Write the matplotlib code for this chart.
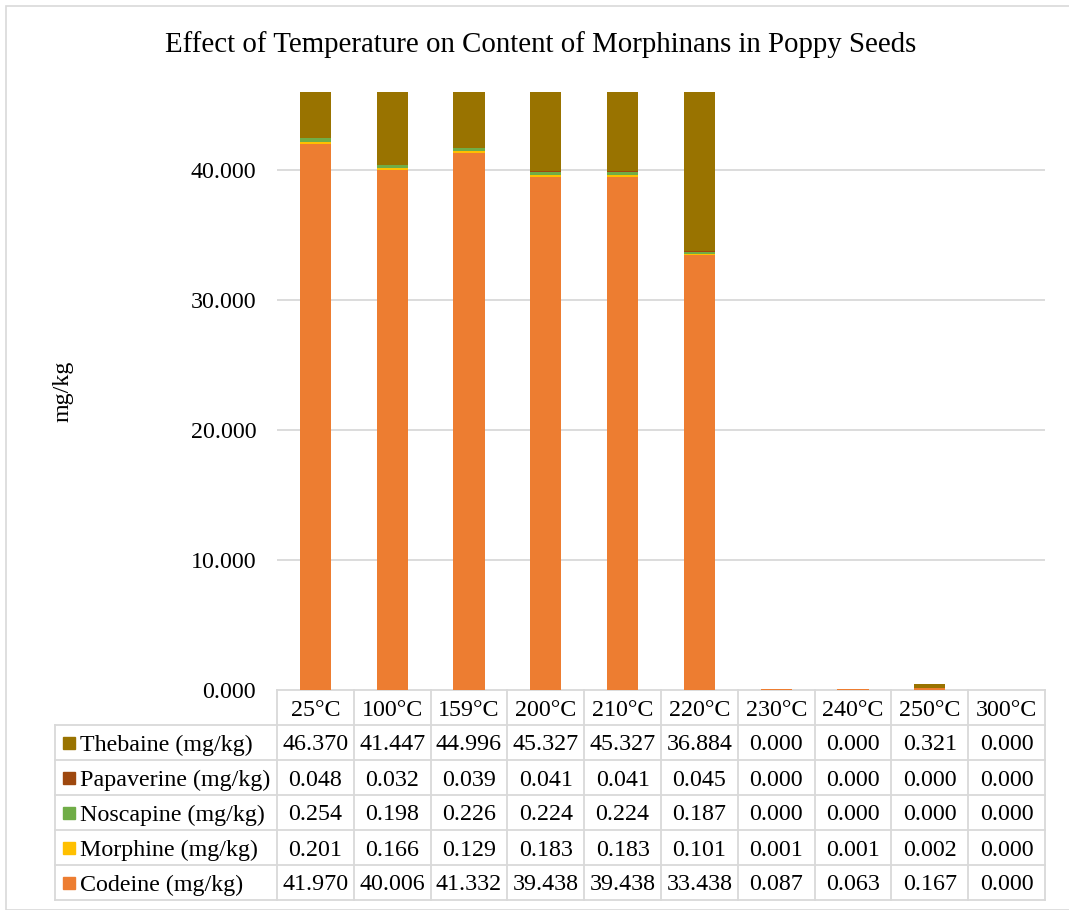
import matplotlib
matplotlib.use("Agg")
import matplotlib.pyplot as plt
import matplotlib.transforms as mtransforms
from matplotlib.patches import Rectangle
import numpy as np

plt.rcParams['font.family'] = ['Liberation Serif', 'DejaVu Serif']

categories = ["25°C", "100°C", "159°C", "200°C", "210°C", "220°C", "230°C", "240°C", "250°C", "300°C"]
codeine = [41.970, 40.006, 41.332, 39.438, 39.438, 33.438, 0.087, 0.063, 0.167, 0.000]
morphine = [0.201, 0.166, 0.129, 0.183, 0.183, 0.101, 0.001, 0.001, 0.002, 0.000]
noscapine = [0.254, 0.198, 0.226, 0.224, 0.224, 0.187, 0.000, 0.000, 0.000, 0.000]
papaverine = [0.048, 0.032, 0.039, 0.041, 0.041, 0.045, 0.000, 0.000, 0.000, 0.000]
thebaine = [46.370, 41.447, 44.996, 45.327, 45.327, 36.884, 0.000, 0.000, 0.321, 0.000]

series = [
    ("Codeine (mg/kg)", codeine, "#ED7D31"),
    ("Morphine (mg/kg)", morphine, "#FFC000"),
    ("Noscapine (mg/kg)", noscapine, "#70AD47"),
    ("Papaverine (mg/kg)", papaverine, "#9E480E"),
    ("Thebaine (mg/kg)", thebaine, "#997300"),
]
yticks = [0, 10, 20, 30, 40]

FS = 17.3
W, H = 1069, 910
fig = plt.figure(figsize=(W / 100, H / 100), dpi=100)
fig.patches.append(Rectangle((6 / W, 0), 1, (H - 6) / H, transform=fig.transFigure,
                             fill=False, edgecolor="#D9D9D9", linewidth=1.2))

left, right, top, bottom = 277, 1045, 92, 690
ax = fig.add_axes([left / W, (H - bottom) / H, (right - left) / W, (bottom - top) / H])
ax.set_xlim(-0.5, len(categories) - 0.5)
ax.set_ylim(0, 46.0)

x = np.arange(len(categories))
base = np.zeros(len(categories))
for name, vals, col in series:
    ax.bar(x, vals, bottom=base, width=0.405, color=col, zorder=3)
    base = base + np.array(vals)

ax.set_yticks(yticks)
ax.set_yticklabels([f"{v:.3f}" for v in yticks], fontsize=FS)
ax.tick_params(axis='y', length=0, pad=15)
ax.set_xticks([])
for yv in yticks[1:]:
    ax.axhline(yv, color="#D9D9D9", linewidth=1.3, zorder=1)
for s in ax.spines.values():
    s.set_visible(False)

ax.set_ylabel("mg/kg", fontsize=FS)
ax.yaxis.set_label_coords(-(left - 74) / (right - left), 0.5)
fig.text(541 / W, 1 - 45 / H, "Effect of Temperature on Content of Morphinans in Poppy Seeds",
         ha="center", va="center", fontsize=20.8)

# data table
trans = mtransforms.blended_transform_factory(ax.transData, ax.transAxes)
ph = bottom - top
rowh = 35.0 / ph
colw_px = (right - left) / len(categories)
label_left = -0.5 - (left - 55) / colw_px
gc = "#D9D9D9"
lw = 1.3
nrows = len(series)
hy0 = 0.0
hy1 = -rowh
for i, c in enumerate(categories):
    ax.text(i, (hy0 + hy1) / 2, c, transform=trans, ha="center", va="center_baseline",
            fontsize=FS, clip_on=False)
ax.plot([-0.5, len(categories) - 0.5], [hy0, hy0], transform=trans, color=gc, lw=lw, clip_on=False)
for i in range(len(categories) + 1):
    ax.plot([i - 0.5, i - 0.5], [hy0, -rowh * (nrows + 1)], transform=trans, color=gc, lw=lw, clip_on=False)
for r in range(nrows + 1):
    yy = -rowh * (r + 1)
    ax.plot([label_left, len(categories) - 0.5], [yy, yy], transform=trans, color=gc, lw=lw, clip_on=False)
ax.plot([label_left, label_left], [-rowh, -rowh * (nrows + 1)], transform=trans, color=gc, lw=lw, clip_on=False)

sq_w = 12 / colw_px
sq_h = 12 / ph
for r, (name, vals, col) in enumerate(reversed(series)):
    yc = -rowh * (r + 1.5)
    mx = label_left + 8 / colw_px
    ax.add_patch(Rectangle((mx, yc - sq_h / 2), sq_w, sq_h, transform=trans, color=col, clip_on=False))
    ax.text(label_left + 25 / colw_px, yc, name, transform=trans, ha="left", va="center_baseline",
            fontsize=FS, clip_on=False)
    for i, v in enumerate(vals):
        ax.text(i, yc, f"{v:.3f}", transform=trans, ha="center", va="center_baseline",
                fontsize=FS, clip_on=False)

fig.savefig("out.png", dpi=100)
